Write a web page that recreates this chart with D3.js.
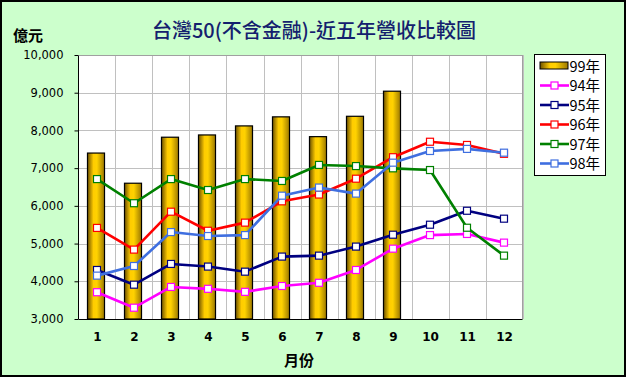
<!DOCTYPE html>
<html><head><meta charset="utf-8">
<script src="https://cdn.jsdelivr.net/npm/d3@7/dist/d3.min.js"></script>
<style>html,body{margin:0;padding:0;background:#fff;}svg{display:block;}</style>
</head><body>
<script>
const months = [1,2,3,4,5,6,7,8,9,10,11,12];
const tickValues = [3000,4000,5000,6000,7000,8000,9000,10000];
const rev99 = [7400, 6600, 7820, 7880, 8120, 8360, 7835, 8375, 9040];
const rev94 = [3710, 3300, 3850, 3800, 3720, 3875, 3960, 4300, 4865, 5225, 5255, 5025];
const rev95 = [4300, 3910, 4460, 4390, 4255, 4655, 4680, 4920, 5235, 5500, 5870, 5660];
const rev96 = [5415, 4840, 5845, 5340, 5555, 6120, 6300, 6720, 7290, 7700, 7615, 7380];
const rev97 = [6710, 6070, 6710, 6420, 6710, 6660, 7085, 7055, 6995, 6950, 5420, 4680];
const rev98 = [4150, 4405, 5305, 5200, 5225, 6270, 6485, 6325, 7145, 7455, 7510, 7410];
const seriesNames = ["94年","95年","96年","97年","98年"];
const seriesColors = ["#ff00ff","#000080","#ff0000","#008000","#3f6fe0"];
const barName = "99年";
const titleText = "台灣50(不含金融)-近五年營收比較圖";
const unitText = "億元";
const xTitle = "月份";

const lineSeries = [rev94, rev95, rev96, rev97, rev98];

const W = 626, H = 377;
const plot = {l: 78.5, r: 522.5, t: 55, b: 319};
const svg = d3.select("body").append("svg").attr("width", W).attr("height", H);

const defs = svg.append("defs");
const g1 = defs.append("linearGradient").attr("id","barGrad").attr("x1","0").attr("x2","1").attr("y1","0").attr("y2","0");
[["0%","#6e5200"],["35%","#ffcc00"],["55%","#ffd200"],["100%","#9c7800"]].forEach(s=>g1.append("stop").attr("offset",s[0]).attr("stop-color",s[1]));

svg.append("rect").attr("x",1).attr("y",1).attr("width",W-2).attr("height",H-2)
  .attr("fill","#ccffcc").attr("stroke","#000").attr("stroke-width",2);

const x = d3.scaleBand().domain(months).range([plot.l, plot.r]).paddingInner(0.54).paddingOuter(0.27);
const y = d3.scaleLinear().domain([3000,10000]).range([plot.b, plot.t]);
const step = x.step();
const cx = m => x(m) + x.bandwidth()/2;

svg.append("rect").attr("x",plot.l).attr("y",plot.t).attr("width",plot.r-plot.l).attr("height",plot.b-plot.t).attr("fill","#fff");

svg.append("g").selectAll("line").data(tickValues.slice(1)).join("line")
  .attr("x1",plot.l).attr("x2",plot.r).attr("y1",d=>Math.round(y(d))+0.5).attr("y2",d=>Math.round(y(d))+0.5)
  .attr("stroke","#c0c0c0").attr("stroke-width",1);
svg.append("g").selectAll("line").data(months).join("line")
  .attr("x1",d=>Math.round(cx(d)+step/2)+0.5).attr("x2",d=>Math.round(cx(d)+step/2)+0.5)
  .attr("y1",plot.t).attr("y2",plot.b)
  .attr("stroke","#c0c0c0").attr("stroke-width",1);

svg.append("g").selectAll("rect").data(rev99.map((v,i)=>({m:months[i],v}))).join("rect")
  .attr("x",d=>x(d.m)-1).attr("width",x.bandwidth()).attr("y",d=>y(d.v)).attr("height",d=>plot.b-y(d.v))
  .attr("fill","url(#barGrad)").attr("stroke","#000").attr("stroke-width",1.2);

const yAxis = d3.axisLeft(y).tickValues(tickValues).tickSize(4).tickFormat(d3.format(","));
const ya = svg.append("g").attr("transform",`translate(${plot.l},0)`).call(yAxis);
ya.select(".domain").remove();
ya.selectAll(".tick line").attr("stroke","#000");
ya.selectAll(".tick text").attr("x",-15).attr("font-family","DejaVu Sans").attr("font-size",11.5).attr("fill","#000");

const xAxis = d3.axisBottom(x).tickSize(0).tickPadding(13);
const xa = svg.append("g").attr("transform",`translate(0,${plot.b})`).call(xAxis);
xa.select(".domain").remove();
xa.selectAll(".tick text").attr("font-family","DejaVu Sans").attr("font-weight","bold").attr("font-size",12).attr("fill","#000")
  .attr("dx", 0.5);

svg.append("line").attr("x1",plot.l).attr("x2",plot.l).attr("y1",plot.t).attr("y2",plot.b).attr("stroke","#000");
svg.append("line").attr("x1",plot.l).attr("x2",plot.r).attr("y1",plot.b+0.5).attr("y2",plot.b+0.5).attr("stroke","#000");
svg.append("line").attr("x1",plot.l).attr("x2",plot.r).attr("y1",plot.t+0.5).attr("y2",plot.t+0.5).attr("stroke","#a0a0a0");
svg.append("line").attr("x1",plot.r).attr("x2",plot.r).attr("y1",plot.t).attr("y2",plot.b).attr("stroke","#a0a0a0");

const line = d3.line().x((d,i)=>cx(months[i])).y(d=>y(d));
lineSeries.forEach((s,k)=>{
  const g = svg.append("g");
  g.append("path").datum(s).attr("d",line).attr("fill","none").attr("stroke",seriesColors[k]).attr("stroke-width",2.6).attr("stroke-linejoin","round");
  g.selectAll("rect").data(s).join("rect")
    .attr("x",(d,i)=>cx(months[i])-3.5).attr("y",d=>y(d)-3.5).attr("width",7).attr("height",7)
    .attr("fill","#fff").attr("stroke",seriesColors[k]).attr("stroke-width",1.2);
});

svg.append("text").attr("x",314).attr("y",38).attr("text-anchor","middle").attr("font-family","Noto Sans CJK TC")
  .attr("font-weight",500).attr("font-size",20).attr("fill","#14206e").text(titleText);
svg.append("text").attr("x",13).attr("y",41).attr("font-family","Noto Sans CJK TC").attr("font-weight","bold")
  .attr("font-size",15).attr("fill","#000").text(unitText);
svg.append("text").attr("x",299).attr("y",366).attr("text-anchor","middle").attr("font-family","Noto Sans CJK TC").attr("font-weight","bold")
  .attr("font-size",15).attr("fill","#000").text(xTitle);

const lg = svg.append("g");
lg.append("rect").attr("x",534.5).attr("y",54.5).attr("width",71).attr("height",121).attr("fill","#fff").attr("stroke","#000");
const legendItems = [{name:barName, bar:true}].concat(seriesNames.map((n,i)=>({name:n,color:seriesColors[i]})));
legendItems.forEach((it,i)=>{
  const yy = 66 + i*19.5;
  if (it.bar) {
    lg.append("rect").attr("x",540).attr("y",yy-4).attr("width",28).attr("height",7).attr("fill","url(#barGrad)").attr("stroke","#000");
  } else {
    lg.append("line").attr("x1",540).attr("x2",569).attr("y1",yy).attr("y2",yy).attr("stroke",it.color).attr("stroke-width",2.6);
    lg.append("rect").attr("x",551).attr("y",yy-3.5).attr("width",7).attr("height",7).attr("fill","#fff").attr("stroke",it.color).attr("stroke-width",1.2);
  }
  lg.append("text").attr("x",569.5).attr("y",yy+5.5).attr("font-family","Noto Sans CJK TC").attr("font-size",14.5).attr("fill","#000").text(it.name);
});
</script>
</body></html>
